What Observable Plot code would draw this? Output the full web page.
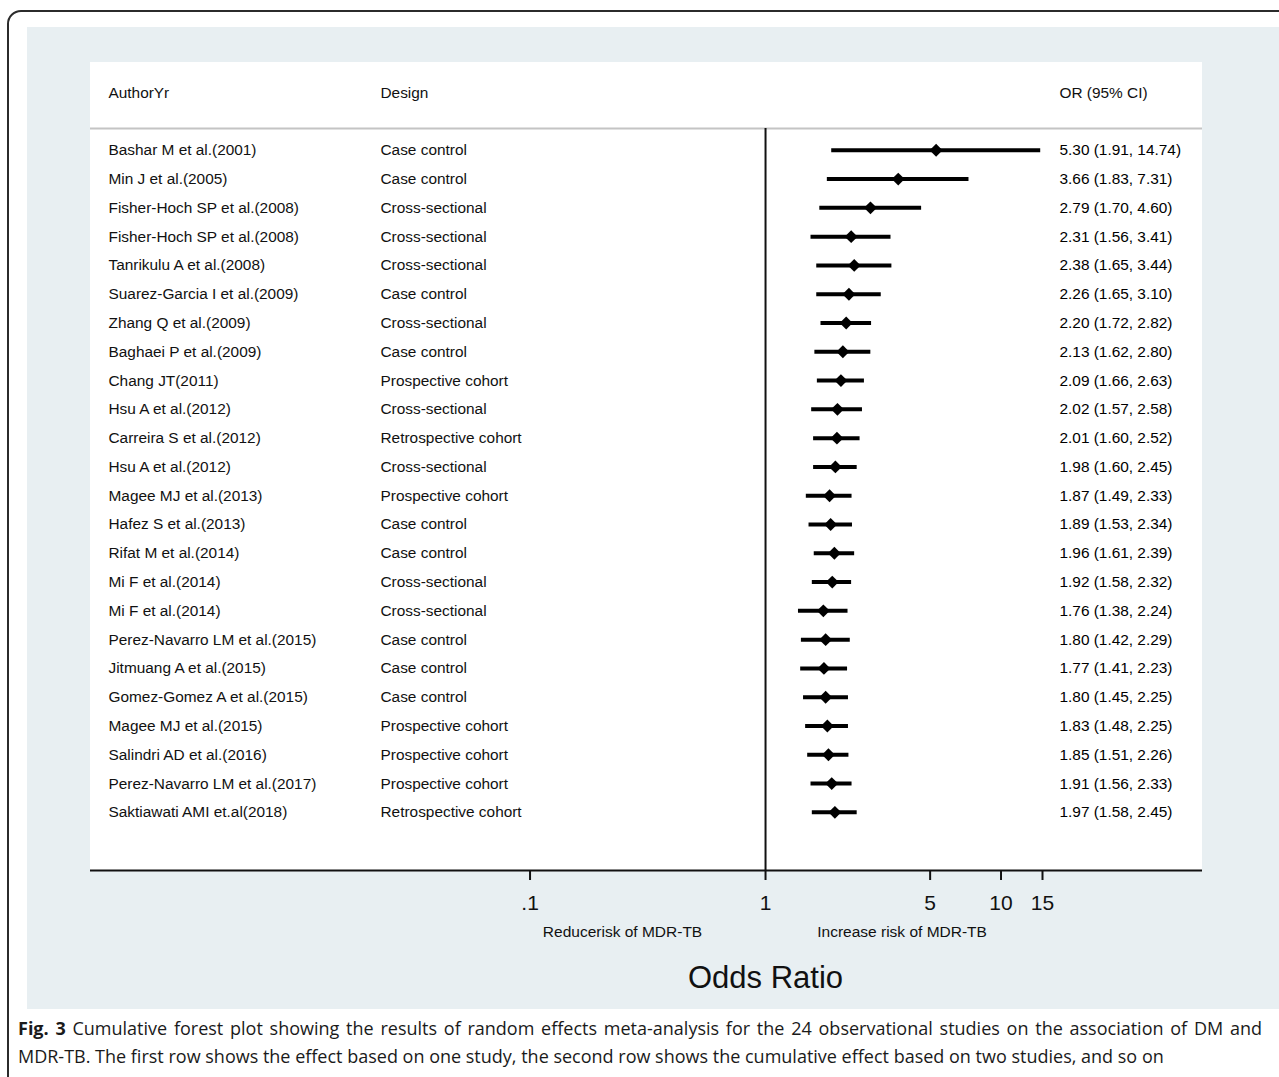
<!DOCTYPE html>
<html>
<head>
<meta charset="utf-8">
<script src="https://cdn.jsdelivr.net/npm/d3@7"></script>
<script src="https://cdn.jsdelivr.net/npm/@observablehq/plot@0.6"></script>
<style>
  html, body { margin: 0; padding: 0; background: #fff; }
  body { width: 1279px; height: 1077px; overflow: hidden; position: relative; }
  .frame { position: absolute; left: 7px; top: 10px; width: 1330px; height: 1130px; border: 2px solid #2b2b2b; border-radius: 14px; box-sizing: border-box; }
  .bg { position: absolute; left: 27px; top: 27px; width: 1252px; height: 982px; background: #e8eff2; }
  .panel { position: absolute; left: 90px; top: 62px; width: 1112px; height: 808px; background: #fff; }
  #chart { position: absolute; left: 0; top: 0; }
  #chart svg { background: transparent !important; }
  .caption { position: absolute; left: 18px; top: 1014px; font-family: "Open Sans", "Noto Sans", sans-serif; font-size: 18px; line-height: 28px; color: #1a1a1a; white-space: nowrap; }
  .caption .l1 { width: 1244px; text-align: justify; text-align-last: justify; }
  .caption b { font-weight: 700; }
</style>
</head>
<body>
<div class="frame"></div>
<div class="bg"></div>
<div class="panel"></div>
<div id="chart"></div>
<div class="caption"><div class="l1"><b>Fig. 3</b> Cumulative forest plot showing the results of random effects meta-analysis for the 24 observational studies on the association of DM and</div><div>MDR-TB. The first row shows the effect based on one study, the second row shows the cumulative effect based on two studies, and so on</div></div>
<script>
// ---- data ----
const authors = [
  "Bashar M et al.(2001)", "Min J et al.(2005)", "Fisher-Hoch SP et al.(2008)", "Fisher-Hoch SP et al.(2008)",
  "Tanrikulu A et al.(2008)", "Suarez-Garcia I et al.(2009)", "Zhang Q et al.(2009)", "Baghaei P et al.(2009)",
  "Chang JT(2011)", "Hsu A et al.(2012)", "Carreira S et al.(2012)", "Hsu A et al.(2012)",
  "Magee MJ et al.(2013)", "Hafez S et al.(2013)", "Rifat M et al.(2014)", "Mi F et al.(2014)",
  "Mi F et al.(2014)", "Perez-Navarro LM et al.(2015)", "Jitmuang A et al.(2015)", "Gomez-Gomez A et al.(2015)",
  "Magee MJ et al.(2015)", "Salindri AD et al.(2016)", "Perez-Navarro LM et al.(2017)", "Saktiawati AMI et.al(2018)"
];
const designs = [
  "Case control", "Case control", "Cross-sectional", "Cross-sectional",
  "Cross-sectional", "Case control", "Cross-sectional", "Case control",
  "Prospective cohort", "Cross-sectional", "Retrospective cohort", "Cross-sectional",
  "Prospective cohort", "Case control", "Case control", "Cross-sectional",
  "Cross-sectional", "Case control", "Case control", "Case control",
  "Prospective cohort", "Prospective cohort", "Prospective cohort", "Retrospective cohort"
];
const oddsRatios = [5.30, 3.66, 2.79, 2.31, 2.38, 2.26, 2.20, 2.13, 2.09, 2.02, 2.01, 1.98,
                    1.87, 1.89, 1.96, 1.92, 1.76, 1.80, 1.77, 1.80, 1.83, 1.85, 1.91, 1.97];
const ciLower = [1.91, 1.83, 1.70, 1.56, 1.65, 1.65, 1.72, 1.62, 1.66, 1.57, 1.60, 1.60,
                 1.49, 1.53, 1.61, 1.58, 1.38, 1.42, 1.41, 1.45, 1.48, 1.51, 1.56, 1.58];
const ciUpper = [14.74, 7.31, 4.60, 3.41, 3.44, 3.10, 2.82, 2.80, 2.63, 2.58, 2.52, 2.45,
                 2.33, 2.34, 2.39, 2.32, 2.24, 2.29, 2.23, 2.25, 2.25, 2.26, 2.33, 2.45];
const headers = ["AuthorYr", "Design", "OR (95% CI)"];
const tickValues = [0.1, 1, 5, 10, 15];
const tickLabels = [".1", "1", "5", "10", "15"];
const favoursLabels = ["Reducerisk of MDR-TB", "Increase risk of MDR-TB"];
const favoursAt = [0.247, 3.8];
const xTitle = "Odds Ratio";
const nullValue = 1;
// plot-region extents (x in odds-ratio units, y in row units)
const xExtent = [0.00136, 71.7];
const yExtent = [-3.05, 25.02];
const headerRow = -2;
const headerRuleRow = -0.76;

// ---- build table ----
const rows = authors.map((a, i) => ({
  i, author: a, design: designs[i], or: oddsRatios[i], lo: ciLower[i], hi: ciUpper[i],
  label: `${oddsRatios[i].toFixed(2)} (${ciLower[i].toFixed(2)}, ${ciUpper[i].toFixed(2)})`
}));
const tickMap = new Map(tickValues.map((v, i) => [v, tickLabels[i]]));
const favours = favoursLabels.map((t, i) => ({t, x: favoursAt[i]}));

const font = "'Liberation Sans', Arial, Helvetica, sans-serif";
const fs = 15.4;

const chart = Plot.plot({
  width: 1279,
  height: 1010,
  marginLeft: 90,
  marginRight: 77,
  marginTop: 62,
  marginBottom: 140,
  style: {fontFamily: font, background: "transparent", color: "#111", overflow: "visible"},
  x: {type: "log", domain: xExtent, axis: null},
  y: {type: "linear", domain: yExtent, reverse: true, axis: null},
  marks: [
    // header separator
    Plot.ruleY([headerRuleRow], {stroke: "#c4c4c4", strokeWidth: 2}),
    // headers
    Plot.text([headers[0]], {y: () => headerRow, text: d => d, frameAnchor: "left", dx: 18, textAnchor: "start", fontSize: fs, fill: "#111"}),
    Plot.text([headers[1]], {y: () => headerRow, text: d => d, frameAnchor: "left", dx: 290, textAnchor: "start", fontSize: fs, fill: "#111"}),
    Plot.text([headers[2]], {y: () => headerRow, text: d => d, frameAnchor: "left", dx: 969, textAnchor: "start", fontSize: fs, fill: "#111"}),
    // null line
    Plot.ruleX([nullValue], {y1: headerRuleRow, y2: yExtent[1], stroke: "#111", strokeWidth: 2}),
    // bottom axis line
    Plot.ruleY([yExtent[1]], {stroke: "#111", strokeWidth: 2}),
    // CI lines
    Plot.ruleY(rows, {y: "i", x1: "lo", x2: "hi", stroke: "#000", strokeWidth: 4}),
    // point estimates
    Plot.dot(rows, {y: "i", x: "or", symbol: "diamond2", r: 5.8, fill: "#000", stroke: "none"}),
    // columns
    Plot.text(rows, {y: "i", text: "author", frameAnchor: "left", dx: 18, textAnchor: "start", fontSize: fs, fill: "#111"}),
    Plot.text(rows, {y: "i", text: "design", frameAnchor: "left", dx: 290, textAnchor: "start", fontSize: fs, fill: "#111"}),
    Plot.text(rows, {y: "i", text: "label", frameAnchor: "left", dx: 969, textAnchor: "start", fontSize: fs, fill: "#000"}),
    // x axis
    Plot.axisX(tickValues, {anchor: "bottom", tickSize: 10, tickPadding: 15, strokeWidth: 2, stroke: "#111",
      text: d => tickMap.get(d), fontSize: 21, fill: "#111", label: null}),
    // favours labels
    Plot.text(favours, {x: "x", text: "t", frameAnchor: "bottom", dy: 66, fontSize: 15.5, fill: "#111"}),
    // axis title
    Plot.text([xTitle], {x: () => nullValue, text: d => d, frameAnchor: "bottom", dy: 117, fontSize: 31, fill: "#111"})
  ]
});
document.getElementById("chart").appendChild(chart);
</script>
</body>
</html>
